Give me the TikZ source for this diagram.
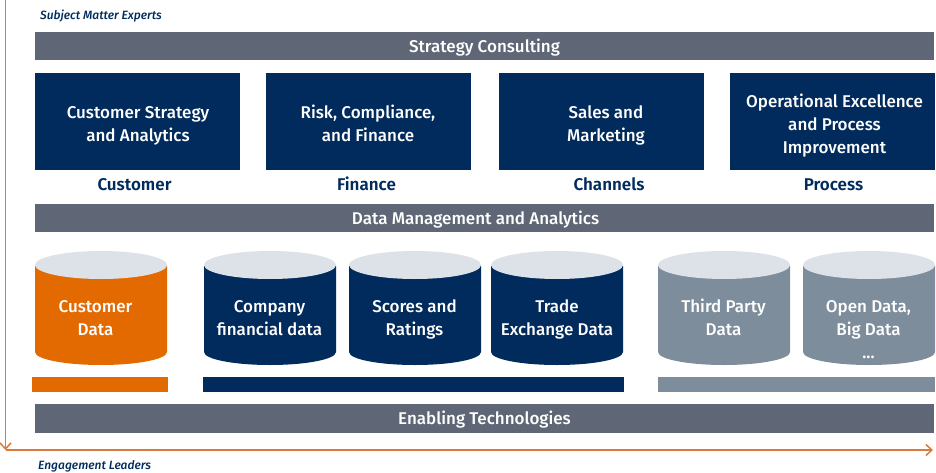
\documentclass[tikz,border=0pt]{standalone}
\usepackage{fontspec}
\setmainfont{Fira Sans}[UprightFont=* Medium,BoldFont=* SemiBold,ItalicFont=* Medium Italic,BoldItalicFont=* SemiBold Italic]
\usetikzlibrary{arrows.meta}
\definecolor{navy}{HTML}{002B5C}
\definecolor{slate}{HTML}{5F6675}
\definecolor{rust}{HTML}{E36A00}
\definecolor{steel}{HTML}{7D8D9C}
\definecolor{lid}{HTML}{DDE1E8}
\definecolor{axis}{HTML}{D97B3A}
\tikzset{
  bar/.style={fill=slate,inner sep=0pt},
  bartext/.style={text=white,inner sep=0pt,font=\fontsize{17}{18}\selectfont},
  area/.style={fill=navy,inner sep=0pt},
  areatext/.style={text=white,align=center,inner sep=0pt,text depth=4pt,font=\fontsize{17}{23}\selectfont},
  head/.style={text=navy,inner sep=0pt,anchor=base,font=\fontsize{17}{20}\selectfont\bfseries},
  base/.style={inner sep=0pt},
  side/.style={text=navy,inner sep=0pt,anchor=west,font=\fontsize{12}{13}\selectfont\itshape},
  axisline/.style={draw=axis,line width=1.5pt,-{Straight Barb[length=6pt,width=11pt]}}
}
\begin{document}
\begin{tikzpicture}[x=1pt,y=-1pt]
  \useasboundingbox (0,0) rectangle (936,473);
  % axes
  \coordinate (origin) at (5.5,450);
  \coordinate (axistop) at (5.5,0);
  \coordinate (axisright) at (933,450);
  \draw[axisline] (axistop) -- (origin);
  \draw[axisline] (origin) -- (axisright);
  \node[side] (sme) at (40,16) {Subject Matter Experts};
  \node[side] (leaders) at (38,466) {Engagement Leaders};
  % bars
  \node[bar,minimum width=899pt,minimum height=28pt] (consulting) at (484.5,46.5) {};
  \node[bar,minimum width=899pt,minimum height=28pt] (analytics) at (484.5,218) {};
  \node[bar,minimum width=899pt,minimum height=29pt] (enabling) at (484.5,418.5) {};
  \node[bartext] (consultingtext) at (484.5,48) {Strategy Consulting};
  \node[bartext] (analyticstext) at (475.5,219.5) {Data Management and Analytics};
  \node[bartext] (enablingtext) at (484.5,420) {Enabling Technologies};
  % areas
  \foreach \name/\cx/\tx/\hx/\txt/\hd in {
    cust/137.5/138/134.5/{Customer Strategy\\and Analytics}/Customer,
    fin/368.5/368/366.5/{Risk, Compliance,\\and Finance}/Finance,
    chan/601.5/606/609/{Sales and\\Marketing}/Channels,
    proc/832/834.5/833.5/{Operational Excellence\\and Process\\Improvement}/Process}
  {
    \node[area,minimum width=205pt,minimum height=97pt] (\name) at (\cx,121.5) {};
    \node[areatext] (\name text) at (\tx,125.5) {\txt};
    \node[head] (\name head) at (\hx,190) {\hd};
  }
  % stores
  \foreach \name/\cx/\tx/\col/\txt/\ty in {
    custdata/101/95.5/rust/{Customer\\Data}/319.5,
    company/270/269.5/navy/{Company\\financial data}/320,
    scores/415/414.5/navy/{Scores and\\Ratings}/320,
    trade/557/557/navy/{Trade\\Exchange Data}/320,
    third/724/723.5/steel/{Third Party\\Data}/319.5,
    open/869/868.5/steel/{Open Data,\\Big Data\\...}/331}
  {
    \fill[\col] (\cx-66,266) -- (\cx-66,352)
      arc[start angle=180,end angle=360,x radius=66pt,y radius=13pt]
      -- (\cx+66,266) -- cycle;
    \fill[lid] (\cx,265) ellipse [x radius=66pt,y radius=14pt];
    \node[areatext] (\name text) at (\tx,\ty) {\txt};
  }
  % base strips
  \node[base,fill=rust,minimum width=136pt,minimum height=15pt] (custbase) at (100,384.5) {};
  \node[base,fill=navy,minimum width=421pt,minimum height=15pt] (corpbase) at (413.5,384.5) {};
  \node[base,fill=steel,minimum width=277pt,minimum height=15pt] (extbase) at (796.5,384.5) {};
\end{tikzpicture}
\end{document}
